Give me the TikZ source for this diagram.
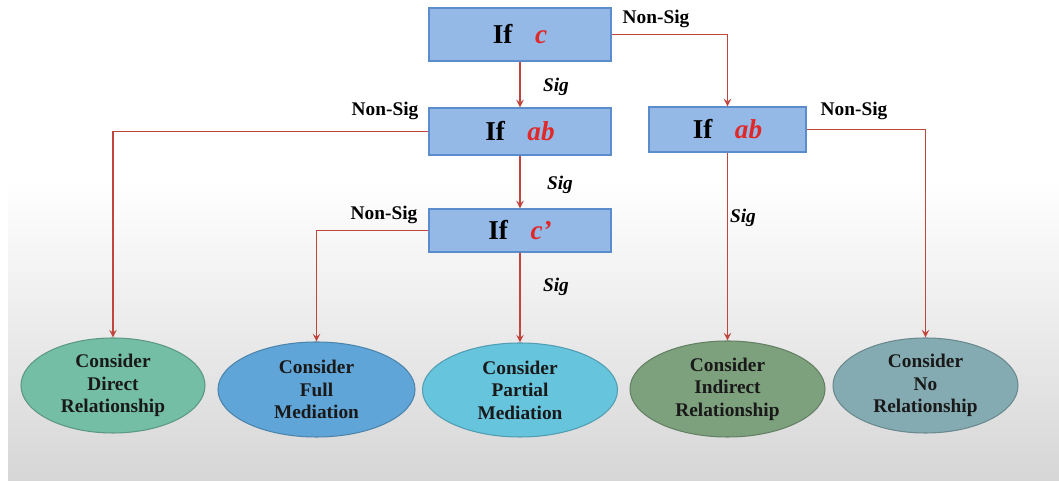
\documentclass[tikz,border=0pt]{standalone}
\usepackage{fontspec}
\setmainfont{Liberation Serif}
\usepackage{xcolor}
\usepackage{tikz}
\usetikzlibrary{shapes.geometric}

\definecolor{linered}{HTML}{C0453D}
\definecolor{varred}{HTML}{E02828}
\definecolor{boxblue}{HTML}{94B9E6}
\definecolor{boxedge}{HTML}{5B8CCB}
\definecolor{directfill}{HTML}{73BEA5}
\definecolor{fullfill}{HTML}{5FA5D7}
\definecolor{partialfill}{HTML}{66C4DD}
\definecolor{indirectfill}{HTML}{7DA07D}
\definecolor{norelfill}{HTML}{84ABB2}

\newcommand{\condtext}[1]{If\hspace{0.45cm}{\color{varred}\itshape #1}}

\begin{document}
\begin{tikzpicture}[>=stealth,
    testbox/.style={draw=boxedge, line width=0.8pt, fill=boxblue, inner sep=0pt,
      minimum width=3.64cm, font=\fontsize{15.5}{17}\selectfont\bfseries},
    outcome/.style={ellipse, draw=#1!80!black, line width=0.6pt, fill=#1, inner sep=0pt,
      align=center, font=\fontsize{11}{12.8}\selectfont\bfseries, text=black!90},
    flow/.style={draw=linered, line width=0.9pt},
    lbl/.style={font=\fontsize{11}{13}\selectfont\bfseries},
    siglbl/.style={font=\fontsize{11}{13}\selectfont\bfseries\itshape}]
  % page and background
  \useasboundingbox (0,0) rectangle (21.18,9.62);
  \fill[white] (0,0) rectangle (21.18,9.62);
  \shade[top color=white, bottom color=gray!32] (0.16,0) rectangle (21.18,6.02);

  % tests
  \node[testbox, minimum height=1.06cm] (ifc) at (10.40,8.93) {\condtext{c}};
  \node[testbox, minimum height=0.94cm] (ifab) at (10.40,6.99) {\condtext{ab}};
  \node[testbox, minimum height=0.86cm] (ifcp) at (10.40,5.01) {\condtext{c’}};
  \node[testbox, minimum height=0.90cm, minimum width=3.14cm] (ifabr) at (14.55,7.03) {\condtext{ab}};

  % outcomes
  \node[outcome=directfill, minimum width=3.68cm, minimum height=1.90cm] (direct) at (2.26,1.91)
    {Consider\\Direct\\Relationship};
  \node[outcome=fullfill, minimum width=3.94cm, minimum height=1.90cm] (full) at (6.33,1.83)
    {Consider\\Full\\Mediation};
  \node[outcome=partialfill, minimum width=3.90cm, minimum height=1.88cm] (partial) at (10.40,1.82)
    {Consider\\Partial\\Mediation};
  \node[outcome=indirectfill, minimum width=3.90cm, minimum height=1.92cm] (indirect) at (14.55,1.84)
    {Consider\\Indirect\\Relationship};
  \node[outcome=norelfill, minimum width=3.70cm, minimum height=1.90cm] (norel) at (18.51,1.91)
    {Consider\\No\\Relationship};

  % connectors
  \draw[flow, ->] (ifc) -- (ifab);
  \draw[flow, ->] (ifc.east) -| (ifabr.north);
  \draw[flow, ->] (ifab.west) -| (direct.north);
  \draw[flow, ->] (ifab) -- (ifcp);
  \draw[flow, ->] (ifcp.west) -| (full.north);
  \draw[flow, ->] (ifcp) -- (partial);
  \draw[flow, ->] (ifabr) -- (indirect);
  \draw[flow, ->] (ifabr.east) -| (norel.north);

  % labels
  \node[lbl] (ns1) at (13.12,9.24) {Non-Sig};
  \node[siglbl] (sig1) at (11.12,7.88) {Sig};
  \node[lbl] (ns2) at (7.70,7.40) {Non-Sig};
  \node[siglbl] (sig2) at (11.20,5.92) {Sig};
  \node[lbl] (ns3) at (7.68,5.32) {Non-Sig};
  \node[siglbl] (sig3) at (11.12,3.88) {Sig};
  \node[lbl] (ns4) at (17.08,7.40) {Non-Sig};
  \node[siglbl] (sig4) at (14.86,5.26) {Sig};
\end{tikzpicture}
\end{document}
